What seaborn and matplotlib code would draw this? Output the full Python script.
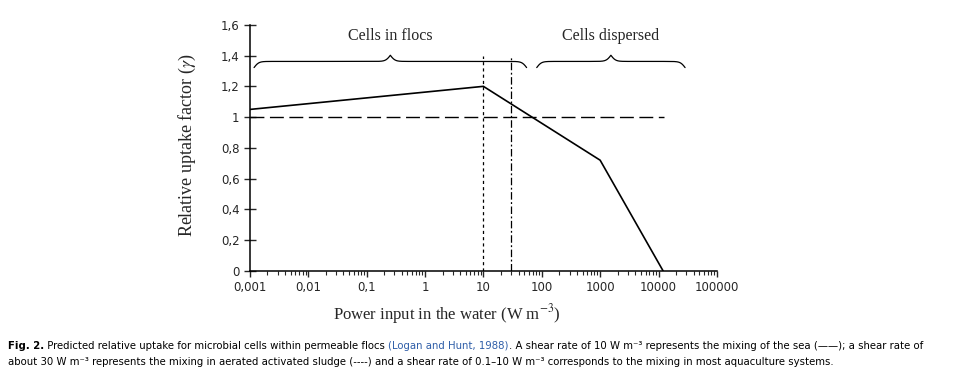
import numpy as np
import pandas as pd
import matplotlib
matplotlib.use('Agg')
import matplotlib.pyplot as plt
import matplotlib.ticker as mticker
import seaborn as sns

# data
power = [0.001, 10, 1000, 12000]
uptake = [1.05, 1.20, 0.72, 0.0]
ref_x = [0.001, 12500]
ref_y = [1.0, 1.0]
sea_x = 10
sludge_x = 30
vline_top = 1.40
x_ticks = [0.001, 0.01, 0.1, 1, 10, 100, 1000, 10000, 100000]
x_labels = ['0,001', '0,01', '0,1', '1', '10', '100', '1000', '10000', '100000']
y_ticks = [0, 0.2, 0.4, 0.6, 0.8, 1.0, 1.2, 1.4, 1.6]
y_labels = ['0', '0,2', '0,4', '0,6', '0,8', '1', '1,2', '1,4', '1,6']
brace_spans = [(0.00118, 55), (82, 28500)]
brace_labels = ['Cells in flocs', 'Cells dispersed']
label_y = 1.524

sns.set_style('ticks')
plt.rcParams['font.family'] = ['DejaVu Sans']
plt.rcParams['mathtext.fontset'] = 'stix'

fig = plt.figure(figsize=(9.61, 3.73), dpi=100)
ax = fig.add_axes([0.260, 0.2735, 0.486, 0.660])

df = pd.DataFrame({'power': power, 'uptake': uptake})
sns.lineplot(data=df, x='power', y='uptake', ax=ax, color='black', lw=1.2)
ax.plot(ref_x, ref_y, color='black', lw=1.0, dashes=(10, 4))
ax.plot([sea_x, sea_x], [0, vline_top], color='black', lw=0.9, dashes=(2.5, 2.5))
ax.plot([sludge_x, sludge_x], [0, vline_top], color='black', lw=0.9, dashes=(6, 2, 1.5, 2))


def brace(ax, x0, x1, y_end, y_flat, y_tip, beta=25):
    # curly brace drawn in log-x space
    l0, l1 = np.log10(x0), np.log10(x1)
    u = np.linspace(l0, l1, 601)
    half = u[:301]
    yh = 1 / (1 + np.exp(-beta * (half - half[0]))) + 1 / (1 + np.exp(-beta * (half - half[-1])))
    yy = np.concatenate([yh, yh[-2::-1]])
    b = (y_flat - y_end) / 0.5
    a = y_end - 0.5 * b
    ax.plot(10 ** u, a + b * yy, color='black', lw=0.9)


for (x0, x1), lab in zip(brace_spans, brace_labels):
    brace(ax, x0, x1, 1.322, 1.362, 1.416)
    xm = 10 ** ((np.log10(x0) + np.log10(x1)) / 2)
    ax.text(xm, label_y, lab, ha='center', va='center', fontsize=11.5,
            family='Liberation Serif')

ax.set_xscale('log')
ax.set_xlim(1e-3, 1e5)
ax.set_ylim(0, 1.6)
ax.set_xticks(x_ticks)
ax.set_xticklabels(x_labels)
ax.xaxis.set_minor_locator(mticker.LogLocator(base=10, subs=np.arange(2, 10), numticks=30))
ax.xaxis.set_minor_formatter(mticker.NullFormatter())
ax.set_yticks(y_ticks)
ax.set_yticklabels(y_labels)
ax.tick_params(axis='y', direction='inout', length=8, width=1, labelsize=8.5)
ax.tick_params(axis='x', which='major', direction='out', length=4, width=1, labelsize=8.5)
ax.tick_params(axis='x', which='minor', direction='out', length=3, width=0.8)
sns.despine(ax=ax)
for s in ['left', 'bottom']:
    ax.spines[s].set_linewidth(1.1)
    ax.spines[s].set_color('black')

ax.set_xlabel('Power input in the water (W m$^{-3}$)', family='Liberation Serif', fontsize=12)
ax.set_ylabel('Relative uptake factor ($\\gamma$)', family='Liberation Serif', fontsize=13)
ax.xaxis.set_label_coords(0.422, -0.128)
ax.yaxis.set_label_coords(-0.111, 0.51)

# caption
cap_size = 8.1
line1 = [
    ('Fig. 2.', 'bold', 'black'),
    (' Predicted relative uptake for microbial cells within permeable flocs ', 'normal', 'black'),
    ('(Logan and Hunt, 1988)', 'normal', '#2f5ea8'),
    ('. A shear rate of 10 W m\u207b\u00b3 represents the mixing of the sea (\u2014\u2014); a shear rate of', 'normal', 'black'),
]
line2 = [
    ('about 30 W m\u207b\u00b3 represents the mixing in aerated activated sludge (----) and a shear rate of '
     '0.1\u201310 W m\u207b\u00b3 corresponds to the mixing in most aquaculture systems.', 'normal', 'black'),
]
renderer = fig.canvas.get_renderer()
for pieces, yb in [(line1, 0.064), (line2, 0.021)]:
    x = 8 / 961
    for txt, wt, col in pieces:
        t = fig.text(x, yb, txt, ha='left', va='baseline', fontsize=cap_size, weight=wt,
                     color=col, family='DejaVu Sans', stretch='condensed')
        x = fig.transFigure.inverted().transform(t.get_window_extent(renderer).p1)[0]

fig.savefig('out.png', dpi=100)
